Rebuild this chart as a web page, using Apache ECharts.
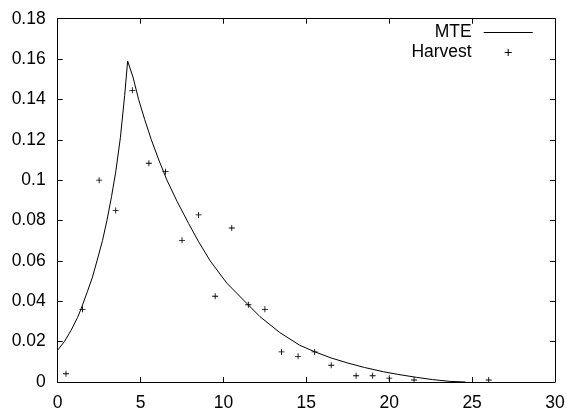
<!DOCTYPE html>
<html>
<head>
<meta charset="utf-8">
<script src="https://cdn.jsdelivr.net/npm/echarts@6/dist/echarts.min.js"></script>
<style>
html,body{margin:0;padding:0;background:#fff;}
#c{width:567px;height:408px;}
</style>
</head>
<body>
<div id="c"></div>
<script>
// MTE model curve
const mteX = [0,0.4,0.8,1.2,1.41,1.8,2.1,2.37,2.7,2.97,3.25,3.5,3.78,4.04,4.22,4.54,4.88,5.25,5.65,6.1,6.59,7.2,7.9,8.5,9.2,10.2,11.4,12.2,13.4,14.6,15.5,16.5,17.5,18.5,19.64,20.5,21.65,22.6,23.66,24.6];
const mteY = [0.0158,0.020,0.0255,0.032,0.0362,0.045,0.052,0.060,0.070,0.080,0.092,0.104,0.121,0.142,0.159,0.1511,0.140,0.130,0.120,0.110,0.100,0.0895,0.0785,0.0695,0.060,0.049,0.039,0.0324,0.0245,0.0182,0.015,0.0119,0.0094,0.0072,0.0051,0.0038,0.0023,0.0012,0.0003,0];
// Harvest observations
const harvestX = [0.5,1.5,2.5,3.5,4.5,5.5,6.5,7.5,8.5,9.5,10.5,11.5,12.5,13.5,14.5,15.5,16.5,18,19,20,21.5,26];
const harvestY = [0.0041,0.036,0.100,0.085,0.1445,0.1084,0.1042,0.0702,0.0828,0.0425,0.0763,0.0383,0.036,0.0149,0.0127,0.0149,0.0083,0.0031,0.0031,0.0019,0.001,0.001];
const seriesNames = ['MTE','Harvest'];

const FONT = 'Liberation Sans, Arial, Helvetica, sans-serif';
const FS = 17.5;
const chart = echarts.init(document.getElementById('c'), null, {renderer:'canvas'});
const fmtY = v => String(+v.toFixed(2));
function axisCommon() {
  return {
    axisLine:{show:true, onZero:false, lineStyle:{color:'#000', width:1}},
    axisTick:{show:true, inside:true, length:5, lineStyle:{color:'#000', width:1}},
    splitLine:{show:false}
  };
}
chart.setOption({
  animation:false,
  backgroundColor:'#fff',
  grid:{left:57.7, right:12, top:18.7, bottom:26, containLabel:false, outerBoundsMode:'none'},
  legend:{
    data:[{name:seriesNames[0], icon:'path://M0,0 H49 V1 H0 Z'}, {name:seriesNames[1]}],
    orient:'vertical',
    align:'right',
    right:29.3, top:18.5,
    itemWidth:49, itemHeight:7, itemGap:2,
    symbolKeepAspect:true,
    formatter: name => '{n|' + name + '}',
    textStyle:{fontFamily:FONT, fontSize:FS, color:'#000',
      rich:{n:{fontFamily:FONT, fontSize:FS, color:'#000', padding:[0,7,0,0]}}},
    selectedMode:false
  },
  xAxis:[
    Object.assign({type:'value', min:0, max:30, interval:5, position:'bottom', gridIndex:0,
      axisLabel:{color:'#000', fontFamily:FONT, fontSize:FS, margin:12}}, axisCommon()),
    Object.assign({type:'value', min:0, max:30, interval:5, position:'top', gridIndex:0,
      axisLabel:{show:false}}, axisCommon())
  ],
  yAxis:[
    Object.assign({type:'value', min:0, max:0.18, interval:0.02, position:'left', gridIndex:0,
      axisLabel:{color:'#000', fontFamily:FONT, fontSize:FS, margin:12, formatter:fmtY}}, axisCommon()),
    Object.assign({type:'value', min:0, max:0.18, interval:0.02, position:'right', gridIndex:0,
      axisLabel:{show:false}}, axisCommon())
  ],
  series:[
    {name:seriesNames[0], type:'line', xAxisIndex:0, yAxisIndex:0,
     data:mteX.map((x,i)=>[x,mteY[i]]),
     symbol:'none', showSymbol:false, smooth:false,
     lineStyle:{color:'#000', width:1}, itemStyle:{color:'#000'}},
    {name:seriesNames[1], type:'scatter', xAxisIndex:1, yAxisIndex:1,
     data:harvestX.map((x,i)=>[x,harvestY[i]]),
     symbol:'path://M3,0 H4 V3 H7 V4 H4 V7 H3 V4 H0 V3 H3 Z', symbolSize:6,
     itemStyle:{color:'#000', opacity:1}}
  ]
});
</script>
</body>
</html>
